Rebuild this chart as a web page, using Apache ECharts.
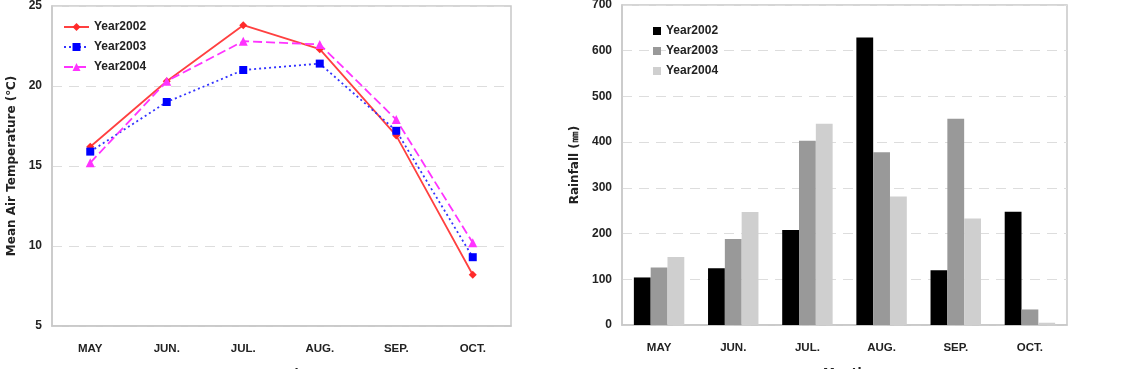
<!DOCTYPE html>
<html>
<head>
<meta charset="utf-8">
<script src="https://cdn.jsdelivr.net/npm/echarts@6/dist/echarts.min.js"></script>
<style>
  html, body { margin: 0; padding: 0; background: #fff; }
  #wrap { width: 1128px; height: 369px; position: relative; overflow: hidden; }
  #temp { position: absolute; left: 0; top: 0; width: 560px; height: 369px; }
  #rain { position: absolute; left: 560px; top: 0; width: 568px; height: 369px; }
</style>
</head>
<body>
<div id="wrap">
  <div id="temp"></div>
  <div id="rain"></div>
</div>
<script>
var months = ['MAY', 'JUN.', 'JUL.', 'AUG.', 'SEP.', 'OCT.'];
var years = ['Year2002', 'Year2003', 'Year2004'];

// mean air temperature (℃)
var temp2002 = [16.2, 20.3, 23.8, 22.3, 16.9, 8.2];
var temp2003 = [15.9, 19.0, 21.0, 21.4, 17.2, 9.3];
var temp2004 = [15.2, 20.3, 22.8, 22.6, 17.9, 10.2];

// rainfall (mm)
var rain2002 = [104, 124, 208, 629, 120, 248];
var rain2003 = [126, 188, 403, 378, 451, 34];
var rain2004 = [149, 247, 440, 281, 233, 5];

var font = 'Liberation Sans, Arial, sans-serif';
var labelStyle = { color: '#222', fontFamily: font, fontWeight: 'bold', fontSize: 11.5 };
var nameStyle = { color: '#222', fontFamily: 'DejaVu Sans', fontWeight: 'bold', fontSize: 12 };

function xAxisOpt() {
    return {
        type: 'category',
        data: months,
        name: 'Month',
        nameLocation: 'middle',
        nameGap: 43,
        nameTextStyle: nameStyle,
        axisLine: { lineStyle: { color: '#c8c8c8', width: 1.5 } },
        axisTick: { inside: true, length: 4, lineStyle: { color: '#bbb' } },
        axisLabel: Object.assign({ margin: 17 }, labelStyle)
    };
}

function yAxisOpt(name, min, max, interval, gap) {
    return {
        type: 'value',
        min: min,
        max: max,
        interval: interval,
        name: name,
        nameLocation: 'middle',
        nameGap: gap,
        nameTextStyle: nameStyle,
        axisLine: { show: true, lineStyle: { color: '#c8c8c8', width: 1.5 } },
        axisTick: { show: false },
        axisLabel: Object.assign({ margin: 10 }, labelStyle, { fontSize: 12 }),
        splitLine: { lineStyle: { color: '#ddd', type: [10, 7] } }
    };
}

var tempChart = echarts.init(document.getElementById('temp'));
tempChart.setOption({
    animation: false,
    grid: {
        left: 52, top: 6, width: 459, height: 320,
        outerBoundsMode: 'none',
        show: true, borderColor: '#c8c8c8', borderWidth: 1.5
    },
    legend: {
        orient: 'vertical',
        left: 58, top: 16,
        itemWidth: 25, itemHeight: 10, itemGap: 8,
        data: years,
        textStyle: { color: '#222', fontFamily: font, fontWeight: 'bold', fontSize: 12 }
    },
    xAxis: xAxisOpt(),
    yAxis: yAxisOpt('Mean Air Temperature (℃)', 5, 25, 5, 33),
    series: [{
        name: years[0],
        type: 'line',
        data: temp2002,
        symbol: 'diamond',
        symbolSize: 8,
        itemStyle: { color: '#ff2a2a' },
        lineStyle: { color: '#ff4040', width: 1.8, type: 'solid' }
    }, {
        name: years[1],
        type: 'line',
        data: temp2003,
        symbol: 'rect',
        symbolSize: 8,
        itemStyle: { color: '#0000ff' },
        lineStyle: { color: '#3333ff', width: 1.8, type: [2, 3] }
    }, {
        name: years[2],
        type: 'line',
        data: temp2004,
        symbol: 'triangle',
        symbolSize: 9,
        itemStyle: { color: '#ff33ff' },
        lineStyle: { color: '#ff33ff', width: 1.8, type: [9, 4] }
    }]
});

var rainChart = echarts.init(document.getElementById('rain'));
rainChart.setOption({
    animation: false,
    grid: {
        left: 62, top: 5, width: 445, height: 320,
        outerBoundsMode: 'none',
        show: true, borderColor: '#c8c8c8', borderWidth: 1.5
    },
    legend: {
        orient: 'vertical',
        left: 88, top: 20,
        itemWidth: 8, itemHeight: 8, itemGap: 8,
        icon: 'rect',
        data: years,
        textStyle: { color: '#222', fontFamily: font, fontWeight: 'bold', fontSize: 12 }
    },
    xAxis: xAxisOpt(),
    yAxis: yAxisOpt('Rainfall (㎜)', 0, 700, 100, 36),
    series: [{
        name: years[0],
        type: 'bar',
        data: rain2002,
        barGap: '0%',
        barCategoryGap: '32%',
        itemStyle: { color: '#000' }
    }, {
        name: years[1],
        type: 'bar',
        data: rain2003,
        itemStyle: { color: '#999' }
    }, {
        name: years[2],
        type: 'bar',
        data: rain2004,
        itemStyle: { color: '#cfcfcf' }
    }]
});
</script>
</body>
</html>
